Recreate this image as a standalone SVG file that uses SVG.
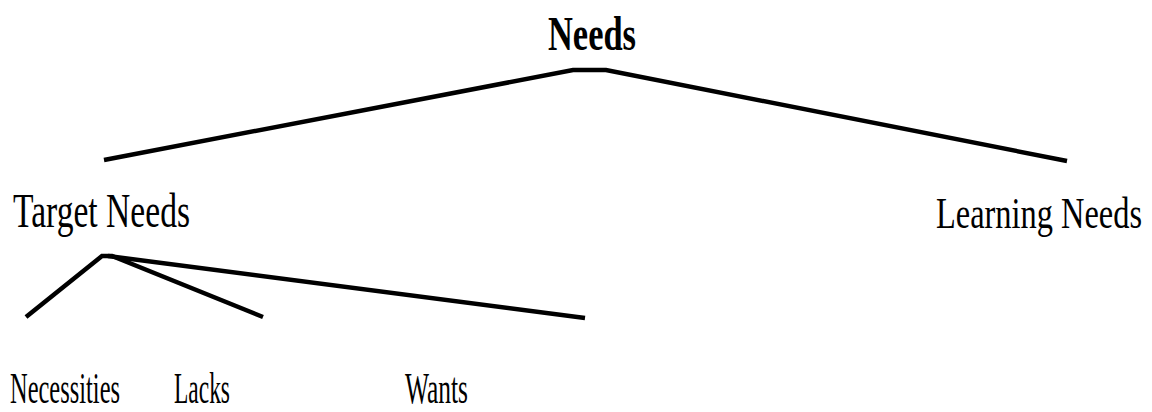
<svg xmlns="http://www.w3.org/2000/svg" width="1152" height="412" viewBox="0 0 1152 412">
<style>
.t{font-family:"Liberation Serif","Times New Roman",serif;font-size:48px;fill:#000}
.s{font-size:44px}
.b{font-weight:bold}
.c{fill:none;stroke:#000;stroke-width:4.5;stroke-linejoin:miter}
</style>
<rect width="1152" height="412" fill="#fff"/>
<g id="connectors">
<polyline class="c" points="104,160 573,70 606,70 1067,161"/>
<polyline class="c" points="26,317 102,256 112,256 263,317"/>
<polyline class="c" points="108,256 585,318"/>
</g>
<g id="needs"><text class="t b" x="548" y="50" textLength="88" lengthAdjust="spacingAndGlyphs">Needs</text></g>
<g id="target-needs"><text class="t" x="13" y="227" textLength="177" lengthAdjust="spacingAndGlyphs">Target Needs</text></g>
<g id="learning-needs"><text class="t s" x="936" y="228" textLength="206" lengthAdjust="spacingAndGlyphs">Learning Needs</text></g>
<g id="necessities"><text class="t s" x="10" y="403" textLength="110" lengthAdjust="spacingAndGlyphs">Necessities</text></g>
<g id="lacks"><text class="t s" x="174" y="403" textLength="56" lengthAdjust="spacingAndGlyphs">Lacks</text></g>
<g id="wants"><text class="t s" x="405" y="403" textLength="63" lengthAdjust="spacingAndGlyphs">Wants</text></g>
</svg>
